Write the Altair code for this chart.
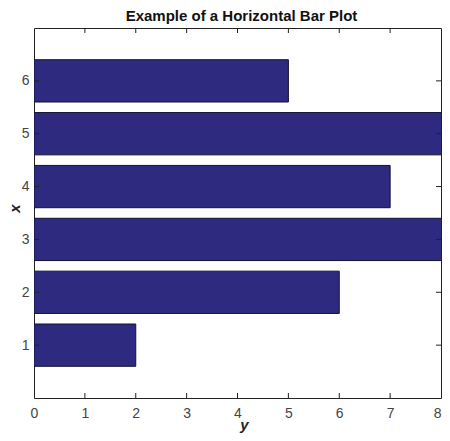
import altair as alt
import pandas as pd

categories = [1, 2, 3, 4, 5, 6]
values = [2, 6, 9, 7, 9, 5]
x_tick_values = [1, 2, 3, 4, 5, 6, 7]
y_tick_values = [1, 2, 3, 4, 5, 6]

df = pd.DataFrame({"cat": categories, "val": values})
df["lo"] = df["cat"] - 0.4
df["hi"] = df["cat"] + 0.4
df["zero"] = 0

xt = pd.DataFrame({"t": x_tick_values})
yt = pd.DataFrame({"t": y_tick_values})

W, H = 407, 370
FONT = "Liberation Sans"
xscale = alt.Scale(domain=[0, 8], nice=False, zero=False)
yscale = alt.Scale(domain=[0, 7], nice=False, zero=False)

xaxis = alt.Axis(values=list(range(0, 9)), title="y", domain=False, ticks=False,
                 grid=False, labelPadding=8, labelFontSize=14, labelColor="#444444",
                 labelFlush=False,
                 labelAlign=alt.expr("datum.value == 8 ? 'right' : 'center'"),
                 labelFont=FONT, titleFont=FONT, titleFontSize=15, titleFontStyle="italic",
                 titleFontWeight="bold", titleColor="#222222",
                 titleX=210, titleY=31, titleAlign="center", titleBaseline="alphabetic")
yaxis = alt.Axis(values=y_tick_values, title="x", domain=False, ticks=False,
                 grid=False, labelPadding=5, labelFontSize=14, labelColor="#444444",
                 labelFont=FONT, titleFont=FONT, titleFontSize=15, titleFontStyle="italic",
                 titleFontWeight="bold", titleColor="#222222",
                 titleX=-20, titleY=180, titleAngle=270, titleAlign="center", titleBaseline="middle")

bars = alt.Chart(df).mark_bar(
    color="#2e2a80", stroke="#111133", strokeWidth=1, clip=True
).encode(
    x=alt.X("zero:Q", scale=xscale, axis=xaxis),
    x2="val:Q",
    y=alt.Y("lo:Q", scale=yscale, axis=yaxis),
    y2="hi:Q",
)

tick_len = 5
bottom_ticks = alt.Chart(xt).mark_rule(color="#222222", strokeWidth=1).encode(
    x=alt.X("t:Q", scale=xscale, axis=xaxis), y=alt.value(H), y2=alt.value(H - tick_len))
top_ticks = alt.Chart(xt).mark_rule(color="#222222", strokeWidth=1).encode(
    x=alt.X("t:Q", scale=xscale, axis=xaxis), y=alt.value(0), y2=alt.value(tick_len))
left_ticks = alt.Chart(yt).mark_rule(color="#222222", strokeWidth=1).encode(
    y=alt.Y("t:Q", scale=yscale, axis=yaxis), x=alt.value(0), x2=alt.value(tick_len))
right_ticks = alt.Chart(yt).mark_rule(color="#222222", strokeWidth=1).encode(
    y=alt.Y("t:Q", scale=yscale, axis=yaxis), x=alt.value(W), x2=alt.value(W - tick_len))

chart = alt.layer(bars, bottom_ticks, top_ticks, left_ticks, right_ticks).properties(
    width=W, height=H,
    title=alt.TitleParams("Example of a Horizontal Bar Plot", font=FONT, fontSize=15,
                          fontWeight="bold", color="#111111", offset=4, dx=4),
    autosize=alt.AutoSizeParams(type="none"),
    padding={"left": 26, "top": 20, "right": 1, "bottom": 35},
    background="white",
).configure_view(stroke="#222222", strokeWidth=1)

chart.save("out.html", embed_options={"renderer": "svg", "actions": False})
